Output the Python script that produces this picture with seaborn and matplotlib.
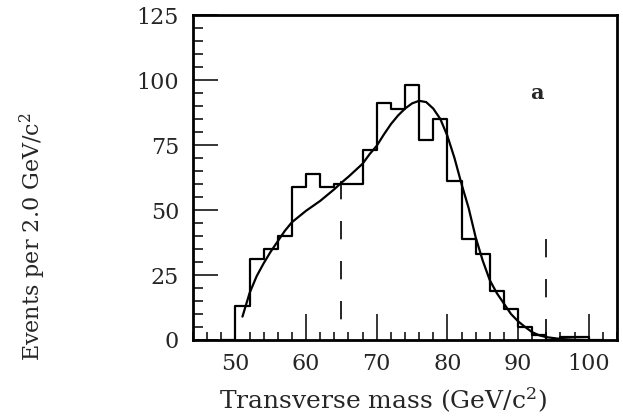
import numpy as np
import pandas as pd
import matplotlib
matplotlib.use("Agg")
import matplotlib.pyplot as plt
import seaborn as sns
from matplotlib.ticker import MultipleLocator

# Event counts in 2 GeV/c^2 transverse-mass bins (lower bin edges)
bin_low = [48, 50, 52, 54, 56, 58, 60, 62, 64, 66, 68, 70, 72, 74, 76, 78,
           80, 82, 84, 86, 88, 90, 92, 94, 96, 98, 100]
counts = [0, 13, 31, 35, 40, 59, 64, 59, 60, 60, 73, 91, 89, 98, 77, 85,
          61, 39, 33, 19, 12, 5, 2, 0, 1, 1, 0]
bin_width = 2.0

# Fitted line shape
fit_mass = [51, 52, 53, 54, 55, 56, 57, 58, 60, 62, 64, 65, 66, 68, 69, 70,
            71, 72, 73, 74, 75, 76, 77, 78, 79, 80, 81, 82, 83, 84, 85, 86,
            87, 88, 89, 90, 91, 92, 93, 94, 96, 98, 100]
fit_events = [9, 18, 24.5, 29.5, 34, 38, 42, 45.3, 49.7, 53.5, 58, 60.5,
              62.8, 67.8, 71.5, 74.7, 79, 83, 86.3, 89, 91, 92, 91.5, 89,
              85, 78.5, 70, 60, 50.8, 39.5, 30.5, 23, 18, 14, 10, 7.2, 5,
              3, 1.8, 1.1, 0.4, 0.1, 0]

# Fit-range boundaries
cut_mass = [65, 94]
cut_top = [61, 39]

x_ticks = [50, 60, 70, 80, 90, 100]
y_ticks = [0, 25, 50, 75, 100, 125]

sns.set_style("ticks")
plt.rcParams["font.family"] = ["DejaVu Serif"]
plt.rcParams["mathtext.fontset"] = "dejavuserif"

fig = plt.figure(figsize=(6.23, 4.19), dpi=100)
ax = fig.add_axes([193 / 623, 1 - 340 / 419, 424 / 623, 325 / 419])

edges = list(bin_low) + [bin_low[-1] + bin_width]
hist_df = pd.DataFrame({"mass": np.asarray(bin_low) + bin_width / 2,
                        "n": counts})
sns.histplot(data=hist_df, x="mass", weights="n", bins=edges,
             element="step", fill=False, color="black", linewidth=1.6,
             ax=ax)

fit_df = pd.DataFrame({"mass": fit_mass, "events": fit_events})
sns.lineplot(data=fit_df, x="mass", y="events", color="black",
             linewidth=1.6, ax=ax)

for xm, top in zip(cut_mass, cut_top):
    ax.plot([xm, xm], [top, 0], color="black", linewidth=1.2,
            dashes=(11, 13), solid_capstyle="butt")

ax.text(92.6, 95, "a", fontsize=15, fontweight="bold", ha="center",
        va="center")

ax.set_xlim(44, 104)
ax.set_ylim(0, 125)
ax.set_xticks(x_ticks)
ax.set_yticks(y_ticks)
ax.xaxis.set_minor_locator(MultipleLocator(2))
ax.yaxis.set_minor_locator(MultipleLocator(5))

ax.tick_params(axis="x", which="major", direction="in", length=19,
               width=1.3, pad=9, labelsize=16)
ax.tick_params(axis="x", which="minor", direction="in", length=5.5,
               width=1.3)
ax.tick_params(axis="y", which="major", direction="in", length=18,
               width=1.3, pad=10, labelsize=16)
ax.tick_params(axis="y", which="minor", direction="in", length=7,
               width=1.3)

for sp in ax.spines.values():
    sp.set_visible(True)
    sp.set_linewidth(2)
    sp.set_color("black")

ax.set_xlabel(r"Transverse mass (GeV/c$^{2}$)", fontsize=18)
ax.set_ylabel(r"Events per 2.0 GeV/c$^{2}$", fontsize=16)
ax.xaxis.set_label_coords(0.448, -0.185)
ax.xaxis.label.set_va("center")
ax.yaxis.set_label_coords(-0.377, 0.318)
ax.yaxis.label.set_va("center")

fig.savefig("out.png", dpi=100, facecolor="white")
